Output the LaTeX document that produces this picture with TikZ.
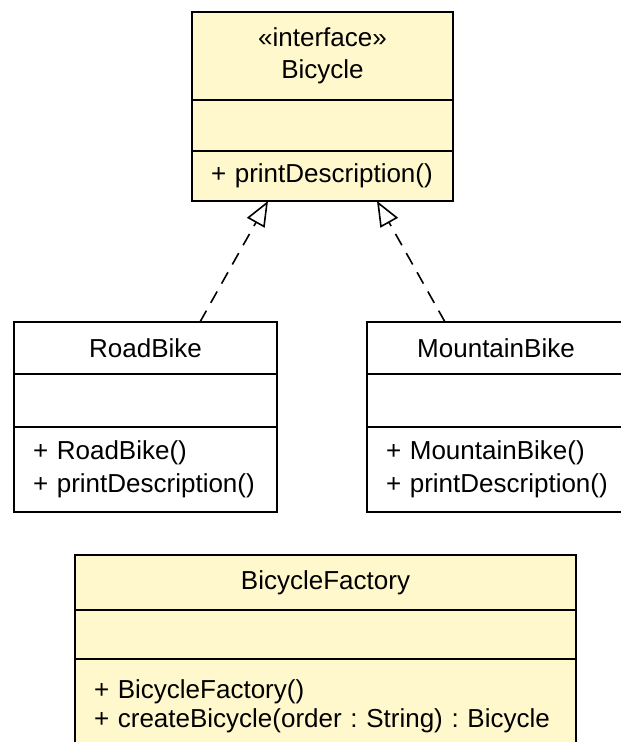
\documentclass[tikz,border=0pt]{standalone}
\usepackage{fontspec}
\setmainfont{Liberation Sans}
\usetikzlibrary{positioning,arrows.meta}
\definecolor{umlfill}{RGB}{255,248,204}
\newcommand{\opline}[1]{\mbox{#1}}
\frenchspacing
\tikzset{
  uml/.style={draw=black, line width=1.6bp, inner sep=0pt, outer sep=0pt, font=\fontsize{26bp}{32bp}\selectfont},
  titlebox/.style={uml, minimum width=#1, align=center},
  attrbox/.style={uml, minimum width=#1},
  opsbox/.style={uml, text width=#1, inner xsep=19bp, align=left},
  realize/.style={line width=1.6bp, dash pattern=on 13bp off 9bp, -{Triangle[open, length=25bp, width=20bp]}}
}
\begin{document}
\begin{tikzpicture}[x=1bp,y=1bp]
\path[use as bounding box, clip] (0,0) rectangle (621,742);
\fill[white] (0,0) rectangle (621,742);
\node[titlebox=261bp, fill=umlfill, minimum height=88bp, anchor=north west] (bicycle) at (192,730) {«interface»\\Bicycle};
\node[attrbox=261bp, fill=umlfill, minimum height=51bp, below=0pt of bicycle] (bicycle attr) {};
\node[opsbox=223bp, fill=umlfill, minimum height=50bp, below=0pt of bicycle attr] (bicycle ops) {\opline{+ printDescription()}};
\node[titlebox=263bp, fill=white, minimum height=52bp, anchor=north west] (roadbike) at (14,420) {RoadBike};
\node[attrbox=263bp, fill=white, minimum height=53bp, below=0pt of roadbike] (roadbike attr) {};
\node[opsbox=225bp, fill=white, minimum height=85bp, below=0pt of roadbike attr, font=\fontsize{26bp}{33bp}\selectfont] (roadbike ops) {\opline{+ RoadBike()}\\\opline{+ printDescription()}};
\node[titlebox=258bp, fill=white, minimum height=52bp, anchor=north west] (mountainbike) at (367,420) {MountainBike};
\node[attrbox=258bp, fill=white, minimum height=53bp, below=0pt of mountainbike] (mountainbike attr) {};
\node[opsbox=220bp, fill=white, minimum height=85bp, below=0pt of mountainbike attr, font=\fontsize{26bp}{33bp}\selectfont] (mountainbike ops) {\opline{+ MountainBike()}\\\opline{+ printDescription()}};
\node[titlebox=501bp, fill=umlfill, minimum height=55bp, anchor=north west] (factory) at (75,187) {BicycleFactory};
\node[attrbox=501bp, fill=umlfill, minimum height=49bp, below=0pt of factory] (factory attr) {};
\node[opsbox=463bp, fill=umlfill, minimum height=94bp, below=0pt of factory attr, font=\fontsize{26bp}{29bp}\selectfont] (factory ops) {\opline{+ BicycleFactory()}\\\opline{+ createBicycle(order : String) : Bicycle}};
\draw[realize] ([xshift=54.5bp]roadbike.north) -- ([xshift=-54.5bp]bicycle ops.south);
\draw[realize] ([xshift=-51bp]mountainbike.north) -- ([xshift=54.5bp]bicycle ops.south);
\end{tikzpicture}
\end{document}
